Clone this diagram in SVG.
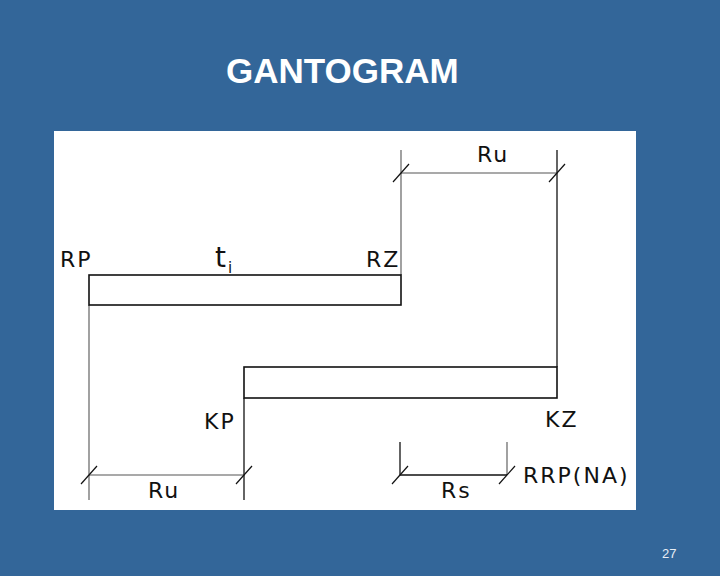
<svg xmlns="http://www.w3.org/2000/svg" width="720" height="576" viewBox="0 0 720 576">
<style>
.lbl{font-family:"DejaVu Sans","Liberation Sans",sans-serif;font-size:22px;fill:#111;letter-spacing:2px}
.bar{fill:#fff;stroke:#111;stroke-width:1.6}
.ln{stroke:#111;stroke-width:1.3;fill:none}
.ext{stroke:#555;stroke-width:1.1;fill:none}
.tick{stroke:#111;stroke-width:1.2}
</style>
<rect x="0" y="0" width="720" height="576" fill="#336699"/>
<text x="226" y="83" font-family="'Liberation Sans',Arial,sans-serif" font-weight="bold" font-size="35" fill="#fff">GANTOGRAM</text>
<rect x="54" y="131" width="582" height="379" fill="#fff"/>
<g id="connectors">
<line class="ext" x1="89" y1="305" x2="89" y2="500"/>
<line class="ext" x1="401" y1="150" x2="401" y2="275"/>
<line class="ln" x1="557" y1="150" x2="557" y2="367"/>
<line class="ln" x1="244" y1="398" x2="244" y2="500"/>
<line class="ext" x1="401" y1="173" x2="557" y2="173"/>
<line class="tick" x1="393" y1="182" x2="409" y2="164"/>
<line class="tick" x1="549" y1="182" x2="565" y2="164"/>
<line class="ext" x1="89" y1="475" x2="244" y2="475"/>
<line class="tick" x1="81" y1="484" x2="97" y2="466"/>
<line class="tick" x1="236" y1="484" x2="252" y2="466"/>
<line class="ln" x1="400" y1="442" x2="400" y2="475"/>
<line class="ext" x1="507" y1="442" x2="507" y2="475"/>
<line class="ln" x1="400" y1="475" x2="507" y2="475"/>
<line class="tick" x1="392" y1="484" x2="408" y2="466"/>
<line class="tick" x1="499" y1="484" x2="515" y2="466"/>
</g>
<g id="bar1"><rect class="bar" x="89" y="275" width="312" height="30"/></g>
<g id="bar2"><rect class="bar" x="244" y="367" width="313" height="31"/></g>
<g id="labels">
<text class="lbl" x="215" y="267" style="font-size:28px;letter-spacing:0">t</text>
<text class="lbl" x="228" y="273" style="font-size:15px;letter-spacing:0">i</text>
<text class="lbl" x="60" y="267">RP</text>
<text class="lbl" x="366" y="267">RZ</text>
<text class="lbl" x="477" y="162">Ru</text>
<text class="lbl" x="204" y="429">KP</text>
<text class="lbl" x="545" y="427">KZ</text>
<text class="lbl" x="148" y="498">Ru</text>
<text class="lbl" x="441" y="498">Rs</text>
<text class="lbl" x="523" y="483">RRP(NA)</text>
</g>
<text x="662" y="558" font-family="'Liberation Sans',Arial,sans-serif" font-size="13" fill="#e8eef5">27</text>
</svg>
